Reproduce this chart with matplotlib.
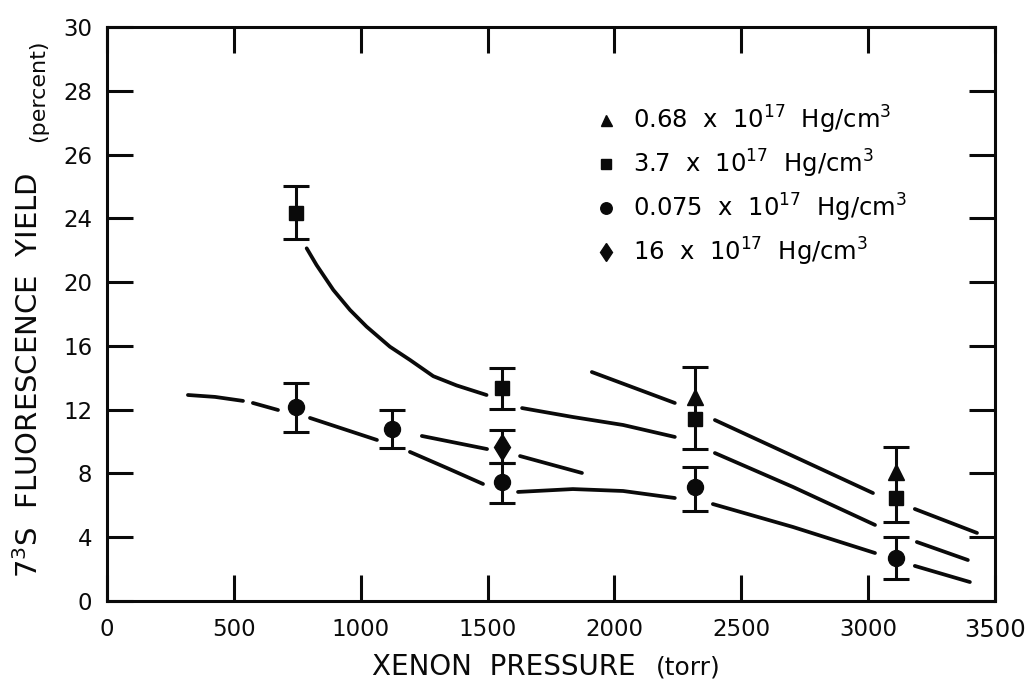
import matplotlib
matplotlib.use('Agg')
import matplotlib.pyplot as plt

# marker data (x in torr, y on the drawn scale)
tri_x = [2317, 3110]
tri_y = [12.8, 8.09]
sq_x = [745, 1557, 2317, 3110]
sq_y = [24.33, 13.36, 11.42, 6.46]
circ_x = [745, 1123, 1557, 2317, 3110]
circ_y = [12.17, 10.79, 7.46, 7.15, 2.70]
diam_x = [1557]
diam_y = [9.66]

# error bar columns: x, lower end, upper end
bar_x = [745, 1557, 745, 1123, 1557, 1557, 2317, 2317, 3110, 3110]
bar_lo = [22.70, 12.04, 10.60, 9.60, 8.66, 6.15, 9.53, 5.64, 4.95, 1.38]
bar_hi = [26.03, 14.61, 13.67, 11.98, 10.73, 8.66, 14.68, 8.40, 9.66, 4.01]

# hand drawn curves, broken into dashes
sq_seg_x = [[787, 826, 892, 958, 1023, 1115, 1194, 1286, 1378, 1496],
            [1636, 1836, 2034, 2238],
            [2396, 2704, 3027],
            [3192, 3393]]
sq_seg_y = [[22.12, 21.07, 19.51, 18.25, 17.21, 15.95, 15.12, 14.10, 13.52, 12.92],
            [12.10, 11.54, 11.04, 10.29],
            [9.28, 7.15, 4.77],
            [3.70, 2.57]]
tri_seg_x = [[1911, 2238], [2396, 2704, 3019], [3184, 3429]]
tri_seg_y = [[14.36, 12.42], [11.35, 9.09, 6.77], [5.77, 4.27]]
circ_seg_x = [[319, 426, 536], [575, 674], [800, 1064], [1194, 1340, 1482],
              [1620, 1836, 2034, 2238], [2388, 2704, 3027], [3184, 3401]]
circ_seg_y = [[12.92, 12.80, 12.55], [12.42, 11.98], [11.48, 10.10], [9.35, 8.34, 7.34],
              [6.84, 7.02, 6.90, 6.46], [6.08, 4.64, 3.01], [2.20, 1.19]]
diam_seg_x = [[1241, 1498], [1628, 1872]]
diam_seg_y = [[10.35, 9.53], [9.09, 8.03]]

x_ticks = [0, 500, 1000, 1500, 2000, 2500, 3000, 3500]
x_tick_labels = ['0', '500', '1000', '1500', '2000', '2500', '3000', '3500']
y_ticks = [0, 4, 8, 12, 16, 20, 24, 28, 32, 36]
y_tick_labels = ['0', '4', '8', '12', '16', '20', '24', '26', '28', '30']

labels = [r'0.68  x  10$^{17}$  Hg/cm$^3$',
          r'3.7  x  10$^{17}$  Hg/cm$^3$',
          r'0.075  x  10$^{17}$  Hg/cm$^3$',
          r'16  x  10$^{17}$  Hg/cm$^3$']

fig = plt.figure(figsize=(10.31, 6.81), dpi=100)
ax = fig.add_axes([107/1031, 1-601/681, 888/1031, 574/681])

ink = '#0a0a0a'
for segx, segy in [(sq_seg_x, sq_seg_y), (tri_seg_x, tri_seg_y),
                   (circ_seg_x, circ_seg_y), (diam_seg_x, diam_seg_y)]:
    for xs, ys in zip(segx, segy):
        ax.plot(xs, ys, color=ink, lw=2.7, solid_capstyle='round')

ax.errorbar(bar_x, bar_lo, yerr=[[0]*len(bar_lo), [h-l for h, l in zip(bar_hi, bar_lo)]],
            fmt='none', ecolor=ink, elinewidth=2.2, capsize=9.5, capthick=2.2)

tri, = ax.plot(tri_x, tri_y, ls='none', marker='^', ms=11, color=ink)
sq, = ax.plot(sq_x, sq_y, ls='none', marker='s', ms=10.5, color=ink)
circ, = ax.plot(circ_x, circ_y, ls='none', marker='o', ms=11.5, color=ink)
diam, = ax.plot(diam_x, diam_y, ls='none', marker='d', ms=13, color=ink)

ax.legend([tri, sq, circ, diam], labels, loc='upper left',
          bbox_to_anchor=(594/1031, 1-104/681), bbox_transform=fig.transFigure,
          frameon=False, fontsize=17.5, handlelength=1.0, handletextpad=0.6,
          labelspacing=0.48, borderpad=0, borderaxespad=0, markerscale=0.72)

ax.set_xlim(0, 3500)
ax.set_ylim(0, 36)
ax.set_xticks(x_ticks)
ax.set_xticklabels(x_tick_labels)
ax.set_yticks(y_ticks)
ax.set_yticklabels(y_tick_labels)
ax.tick_params(direction='in', length=18.5, width=2.2, top=True, right=True,
               labelsize=16.5, colors=ink)
ax.tick_params(axis='x', pad=12)
ax.tick_params(axis='y', pad=10.5)
ax.get_xticklabels()[-1].set_fontsize(17.5)
for s in ax.spines.values():
    s.set_linewidth(2.2)
    s.set_color(ink)

fig.text(372/1031, 1-675/681, 'XENON  PRESSURE', fontsize=20, ha='left', va='baseline', color=ink)
fig.text(656/1031, 1-675/681, '(torr)', fontsize=18, ha='left', va='baseline', color=ink)
fig.text(38/1031, 1-578/681, r'7$^3$S  FLUORESCENCE  YIELD', fontsize=21, rotation=90,
         rotation_mode='anchor', ha='left', va='baseline', color=ink)
fig.text(44/1031, 1-142/681, '(percent)', fontsize=16, rotation=90,
         rotation_mode='anchor', ha='left', va='baseline', color=ink)

fig.savefig('out.png', dpi=100)
